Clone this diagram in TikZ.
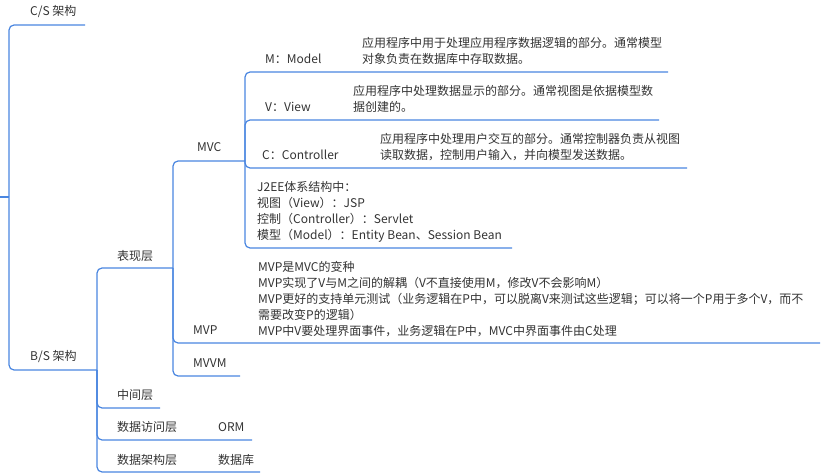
\documentclass[tikz,border=0pt]{standalone}
\usepackage{fontspec}
\setmainfont{Noto Sans CJK SC}
\usepackage{xcolor}
\definecolor{lineBlue}{HTML}{4A86E0}
\definecolor{textDark}{HTML}{333333}

\begin{document}
\begin{tikzpicture}[x=1pt, y=-1pt,
  topic/.style={anchor=west, inner sep=0pt, align=left, text=textDark, font=\fontsize{12}{16}\selectfont},
  branch/.style={lineBlue, line width=1.2pt, rounded corners=5pt}]
  \useasboundingbox (0,0) rectangle (828,476);
  % topics
  \node[topic] (cs) at (30,12) {C/S 架构};
  \node[topic] (bs) at (30,357) {B/S 架构};
  \node[topic] (bxc) at (117,256) {表现层};
  \node[topic] (zjc) at (117,395) {中间层};
  \node[topic] (sjfw) at (117,427) {数据访问层};
  \node[topic] (orm) at (218,427) {ORM};
  \node[topic] (sjjg) at (117,460) {数据架构层};
  \node[topic] (sjk) at (218,460) {数据库};
  \node[topic] (mvc) at (197,147) {MVC};
  \node[topic] (mvp) at (193,330) {MVP};
  \node[topic] (mvvm) at (193,363) {MVVM};
  \node[topic] (m) at (265,59) {M：Model};
  \node[topic] (v) at (265,107) {V：View};
  \node[topic] (c) at (262,155) {C：Controller};
  \node[topic] (mdesc) at (362,51) {应用程序中用于处理应用程序数据逻辑的部分。通常模型\\对象负责在数据库中存取数据。};
  \node[topic] (vdesc) at (353,99) {应用程序中处理数据显示的部分。通常视图是依据模型数\\据创建的。};
  \node[topic] (cdesc) at (380,147) {应用程序中处理用户交互的部分。通常控制器负责从视图\\读取数据，控制用户输入，并向模型发送数据。};
  \node[topic] (j2ee) at (257,211.5) {J2EE体系结构中：\\视图（View）：JSP\\控制（Controller）：Servlet\\模型（Model）：Entity Bean、Session Bean};
  \node[topic] (mvpnote) at (258,299) {MVP是MVC的变种\\MVP实现了V与M之间的解耦（V不直接使用M，修改V不会影响M）\\MVP更好的支持单元测试（业务逻辑在P中，可以脱离V来测试这些逻辑；可以将一个P用于多个V，而不\\需要改变P的逻辑）\\MVP中V要处理界面事件，业务逻辑在P中，MVC中界面事件由C处理};
  % junctions and line ends
  \coordinate (stub) at (0,197);
  \coordinate (root) at (9,197);
  \coordinate (csEnd) at (85,25);
  \coordinate (bsJ) at (97,370);
  \coordinate (bxcJ) at (173,268);
  \coordinate (zjcEnd) at (160,408);
  \coordinate (sjfwEnd) at (252,440);
  \coordinate (sjjgEnd) at (260,472);
  \coordinate (mvcJ) at (245,161);
  \coordinate (mvpEnd) at (820,343);
  \coordinate (mvvmEnd) at (240,376);
  \coordinate (mEnd) at (668,72);
  \coordinate (vEnd) at (659,120);
  \coordinate (cEnd) at (687,168);
  \coordinate (j2eeEnd) at (512,248);
  % branches
  \draw[branch] (stub) -- (root);
  \draw[branch] (root) |- (csEnd);
  \draw[branch] (root) |- (bsJ);
  \draw[branch] (bsJ) |- (bxcJ);
  \draw[branch] (bsJ) |- (zjcEnd);
  \draw[branch] (bsJ) |- (sjfwEnd);
  \draw[branch] (bsJ) |- (sjjgEnd);
  \draw[branch] (bxcJ) |- (mvcJ);
  \draw[branch] (bxcJ) |- (mvpEnd);
  \draw[branch] (bxcJ) |- (mvvmEnd);
  \draw[branch] (mvcJ) |- (mEnd);
  \draw[branch] (mvcJ) |- (vEnd);
  \draw[branch] (mvcJ) |- (cEnd);
  \draw[branch] (mvcJ) |- (j2eeEnd);
\end{tikzpicture}
\end{document}
